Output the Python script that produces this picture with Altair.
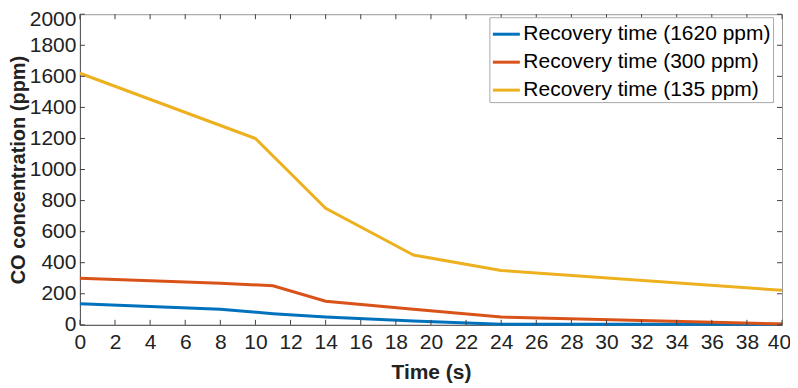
import altair as alt
import pandas as pd

series_names = ["Recovery time (1620 ppm)", "Recovery time (300 ppm)", "Recovery time (135 ppm)"]
colors = ["#0072BD", "#D95319", "#EDB120"]

blue_t = [0, 8, 11, 14, 19, 24, 40]
blue_v = [135, 100, 72, 50, 25, 3, 3]
red_t = [0, 8, 11, 14, 19, 24, 40]
red_v = [300, 267, 252, 152, 100, 50, 5]
yellow_t = [0, 10, 14, 19, 24, 40]
yellow_v = [1620, 1200, 750, 450, 350, 222]

x_ticks = list(range(0, 41, 2))
y_ticks = list(range(0, 2001, 200))

rows = []
for name, ts, vs in [(series_names[0], blue_t, blue_v), (series_names[1], red_t, red_v), (series_names[2], yellow_t, yellow_v)]:
    for t, v in zip(ts, vs):
        rows.append({"series": name, "t": t, "v": v})
df = pd.DataFrame(rows)

W, H = 703, 311
FONT = "Liberation Sans"
TICKC = "#404040"

xs = alt.Scale(domain=[0, 40], nice=False)
ys = alt.Scale(domain=[0, 2000], nice=False)

x_axis = alt.Axis(values=x_ticks, ticks=False, labelPadding=7, titlePadding=9,
                  format="d", labelOverlap=False, labelFlush=False, labelBound=False,
                  labelOffset={"expr": "datum.value == 40 ? -3 : 0"},
                  titleFontSize=21,
                  domainColor="#555555", grid=False)
y_axis = alt.Axis(values=y_ticks, ticks=False, labelPadding=4, titlePadding=1,
                  format="d", labelOverlap=False, labelFlush=False, labelBound=False,
                  labelOffset={"expr": "datum.value == 2000 ? 5 : 0"},
                  titleFontSize=20,
                  domainColor="#555555", grid=False)

lines = alt.Chart(df).mark_line(strokeWidth=3).encode(
    x=alt.X("t:Q", scale=xs, title="Time (s)", axis=x_axis),
    y=alt.Y("v:Q", scale=ys, title="CO concentration (ppm)", axis=y_axis),
    color=alt.Color("series:N", scale=alt.Scale(domain=series_names, range=colors),
                    legend=alt.Legend(title=None, orient="none", legendX=410, legendY=3,
                                      symbolType="stroke", symbolSize=729, symbolStrokeWidth=3,
                                      labelFontSize=21, labelFont=FONT, labelColor="#000000",
                                      padding=2, rowPadding=3, labelOffset=2,
                                      strokeColor="#aaaaaa", fillColor="#ffffff",
                                      labelLimit=400)),
)

xt = pd.DataFrame({"t": x_ticks})
yt = pd.DataFrame({"v": y_ticks})

tick_bottom = alt.Chart(xt).mark_rule(color=TICKC, strokeWidth=1).encode(
    x=alt.X("t:Q", scale=xs, title="Time (s)", axis=x_axis), y=alt.value(H), y2=alt.value(H - 5))
tick_top = alt.Chart(xt).mark_rule(color=TICKC, strokeWidth=1).encode(
    x=alt.X("t:Q", scale=xs, title="Time (s)", axis=x_axis), y=alt.value(0), y2=alt.value(5))
tick_left = alt.Chart(yt).mark_rule(color=TICKC, strokeWidth=1).encode(
    y=alt.Y("v:Q", scale=ys, title="CO concentration (ppm)", axis=y_axis), x=alt.value(0), x2=alt.value(5))
tick_right = alt.Chart(yt).mark_rule(color=TICKC, strokeWidth=1).encode(
    y=alt.Y("v:Q", scale=ys, title="CO concentration (ppm)", axis=y_axis), x=alt.value(W), x2=alt.value(W - 5))

chart = alt.layer(lines, tick_bottom, tick_top, tick_left, tick_right).properties(
    width=W, height=H,
    autosize=alt.AutoSizeParams(type="none"),
    padding={"left": 72, "top": 6, "right": 8, "bottom": 60},
    background="#ffffff",
).configure_view(stroke="#999999", strokeWidth=1).configure_axis(
    labelFont=FONT, labelFontSize=21, labelColor="#222222",
    titleFont=FONT, titleFontWeight="bold", titleColor="#222222",
)

chart.save("out.html", embed_options={"renderer": "svg", "actions": False})
